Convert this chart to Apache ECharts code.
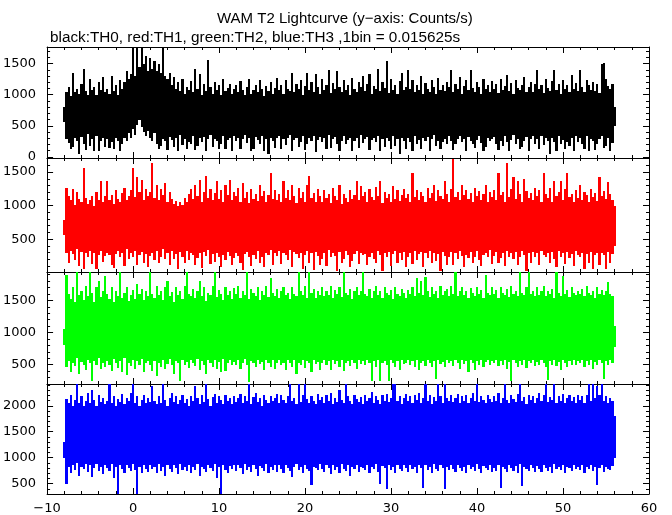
<!DOCTYPE html>
<html><head><meta charset="utf-8">
<script src="https://cdn.jsdelivr.net/npm/echarts@6/dist/echarts.min.js"></script>
<style>html,body{margin:0;padding:0;background:#fff}#c{width:672px;height:515px}</style>
</head><body><div id="c"></div><script>
// Per-column minimum / maximum of each light curve
// at 0.25 s spacing (x = -8 ... 56 s, 257 columns)
const timeStart = -8, timeStep = 0.25;
const xTicks = [-10, 0, 10, 20, 30, 40, 50, 60];

// TH0 (black)
const th0Hi = [
  800,1050,1120,980,1350,1040,1100,1010,1180,1420,1060,990,1250,1080,1130,1000,1210,1070,1290,1040,
  1100,1020,1300,1060,1150,1000,1240,1090,1200,1380,1250,1330,1780,1300,1780,1450,1780,1500,1620,1380,
  1600,1420,1550,1380,1500,1350,1780,1300,1250,1350,1150,1280,1100,1200,1060,1250,1010,1130,1080,1220,
  1050,1420,1100,1340,1000,1180,1060,1560,1120,1020,1200,1080,1150,990,1250,1060,1110,1180,1020,1090,
  1160,1040,1220,1070,990,1130,1250,1010,1080,1160,1040,1230,1100,980,1140,1060,1200,1020,1110,1270,
  1070,1150,1010,1240,1100,1060,1350,1040,1180,1090,1230,1000,1140,1350,1080,1200,1050,1340,1120,1010,
  1260,1070,1150,1400,1030,1190,1090,1380,1120,1040,1230,1080,1160,1000,1270,1100,1050,1200,1130,1310,
  1060,1180,1330,1020,1140,1090,1420,1060,1200,1110,1540,1030,1250,1080,1160,1010,1220,1350,1070,1130,
  1400,1090,1230,1040,1160,1080,1300,1020,1190,1100,1050,1240,1130,1010,1270,1080,1150,1060,1210,1120,
  1400,1050,1180,1090,1280,1020,1140,1230,1070,1400,1110,1050,1200,1130,1010,1260,1090,1150,1040,1220,
  1100,1170,1030,1250,1080,1140,1320,1060,1190,1010,1230,1110,1070,1160,1280,1040,1130,1200,1050,1180,
  1400,1090,1150,1030,1260,1110,1060,1220,1400,1080,1170,1020,1240,1100,1150,1050,1320,1090,1190,1060,
  1400,1120,1040,1230,1150,1080,1200,1060,1170,1030,1500,1510,1250,1140,1090,1180,800];
const th0Lo = [
  560,280,220,130,150,300,250,40,320,210,110,360,180,290,90,330,100,260,310,150,
  290,140,230,120,300,260,100,200,310,250,380,300,450,350,520,600,480,400,330,420,
  300,250,380,200,130,180,290,260,110,320,270,160,300,90,350,190,280,130,240,200,
  330,110,170,300,240,320,90,280,350,150,290,260,130,210,340,120,270,300,100,330,
  260,310,120,280,350,220,300,90,130,320,270,210,340,100,290,40,310,260,140,300,
  330,120,280,190,310,350,90,270,300,160,240,330,110,210,300,250,340,80,270,320,
  230,300,130,350,140,280,320,210,100,250,330,200,270,310,100,260,300,140,350,220,
  280,320,110,270,300,240,340,90,280,150,310,260,120,330,180,290,40,300,250,130,
  310,240,100,340,200,270,130,300,250,320,90,290,350,180,260,120,240,280,200,330,
  250,110,210,290,340,230,280,100,320,260,200,140,270,340,220,90,160,310,250,280,
  320,210,110,260,180,330,240,90,270,350,200,280,130,150,260,320,100,290,340,210,
  280,120,330,190,300,260,40,310,240,100,340,200,270,130,230,180,300,90,330,240,
  300,210,120,340,90,290,250,110,200,280,330,140,170,300,100,220,500];

// TH1 (red)
const th1Hi = [
  780,1270,1150,1080,1250,1010,1200,1100,1050,1560,1120,1030,1080,1150,1000,1210,1090,1370,1060,1140,
  1370,1080,1160,1020,1230,1100,1050,1190,1270,1080,1150,1240,1560,1130,1430,1200,1380,1090,1250,1140,
  1200,1640,1120,1300,1080,1250,1160,1340,1050,1200,1100,1020,1070,990,1050,1010,1120,1060,1180,1250,
  1100,1300,1150,1380,1060,1200,1440,1120,1250,1080,1190,1370,1100,1230,1050,1300,1160,1380,1090,1210,
  1150,1270,1060,1330,1120,1200,1040,1250,1100,1180,1070,1300,1140,1220,1050,1160,1490,1100,1230,1080,
  1180,1050,1370,1120,1230,1090,1300,1150,1040,1260,1110,1200,1060,1310,1440,1120,1190,1050,1250,1140,
  1060,1230,1110,1180,1040,1270,1150,1090,1300,1020,1180,1120,1050,1230,1100,1160,1370,1080,1290,1140,
  1200,1060,1250,1130,1090,1280,1150,1370,1040,1210,1120,1180,1060,1290,1100,1230,1070,1160,1250,1110,
  1180,1050,1490,1130,1240,1080,1200,1150,1060,1270,1120,1190,1310,1070,1230,1140,1100,1370,1180,1050,
  1250,1700,1130,1210,1080,1300,1160,1240,1100,1190,1050,1270,1140,1220,1090,1180,1310,1060,1200,1130,
  1240,1090,1490,1160,1210,1060,1640,1130,1250,1430,1100,1370,1180,1060,1400,1220,1120,1190,1080,1260,
  1150,1230,1060,1490,1180,1110,1270,1050,1360,1140,1200,1370,1090,1250,1490,1130,1180,1060,1240,1120,
  1300,1090,1210,1160,1050,1250,1130,1190,1070,1430,1150,1220,1100,1350,1180,1090,1000];
const th1Lo = [
  560,300,150,330,280,190,350,100,310,60,290,240,330,130,300,60,270,320,160,250,
  300,260,120,70,280,320,230,300,100,350,210,290,240,330,120,270,310,150,280,90,
  250,300,190,330,140,240,350,210,290,110,320,200,280,50,310,240,150,330,190,300,
  260,110,220,290,70,310,250,340,130,280,160,300,240,90,270,190,310,250,120,220,
  290,250,140,40,280,310,230,100,260,200,330,150,240,80,300,260,340,110,290,250,
  320,130,300,270,190,340,90,310,280,220,300,60,260,330,140,290,40,310,250,120,
  210,300,100,340,230,290,250,20,310,150,200,330,260,90,180,280,320,130,300,260,
  280,110,240,300,210,140,320,260,20,290,240,310,100,280,330,150,290,190,310,80,
  240,300,130,330,190,280,310,90,290,220,320,140,300,180,280,20,310,250,110,230,
  310,120,290,200,330,250,90,270,220,310,150,240,320,190,100,260,300,230,340,130,
  250,310,140,220,300,100,330,240,290,200,310,120,240,320,260,20,290,150,310,230,
  290,110,320,270,230,300,140,310,200,90,330,240,290,130,310,220,280,100,320,270,
  240,300,60,280,150,310,50,270,300,120,290,260,60,310,140,280,400];

// TH2 (green)
const th2Hi = [
  1050,1900,1600,1520,1700,1480,1940,1580,1650,1500,1720,1560,1940,1620,1470,1700,1800,1550,1640,1880,
  1600,1520,1700,1480,1650,1570,1940,1530,1620,1700,1490,1580,1660,1520,1750,1600,1680,1500,1640,1560,
  1940,1600,1530,1720,1580,1650,1500,1700,1800,1560,1630,1480,1700,1590,1650,1520,1720,1940,1600,1560,
  1680,1530,1640,1800,1560,1700,1490,1620,1580,1720,1940,1550,1660,1600,1500,1700,1580,1640,1520,1690,
  1600,1720,1540,1650,1580,1940,1520,1680,1610,1560,1700,1500,1640,1590,1720,1550,1850,1620,1570,1680,
  1540,1640,1700,1580,1620,1520,1700,1600,1560,1940,1650,1590,1720,1540,1940,1610,1680,1530,1650,1580,
  1700,1560,1640,1590,1720,1540,1660,1600,1700,1550,1940,1620,1580,1680,1520,1640,1700,1580,1650,1940,
  1600,1560,1680,1530,1640,1720,1590,1650,1540,1700,1610,1580,1660,1520,1700,1600,1560,1680,1620,1540,
  1660,1600,1700,1560,1850,1620,1800,1580,1870,1640,1550,1700,1600,1650,1530,1720,1590,1640,1680,1570,
  1720,1600,1940,1560,1650,1700,1580,1640,1530,1690,1620,1570,1700,1600,1660,1540,1890,1620,1580,1700,
  1600,1660,1540,1700,1620,1580,1680,1550,1720,1600,1650,1560,1940,1620,1580,1700,1940,1600,1640,1560,
  1700,1580,1640,1720,1560,1650,1600,1680,1540,1940,1620,1570,1880,1600,1660,1550,1700,1620,1580,1640,
  1600,1680,1560,1720,1620,1580,1650,1540,1700,1600,1660,1580,1640,1790,1600,1560,1100];
const th2Lo = [
  800,470,560,380,520,480,600,350,540,500,420,580,520,240,560,490,600,430,530,470,
  560,500,400,590,520,450,560,380,600,340,530,480,570,430,550,500,590,380,520,560,
  500,400,550,330,520,470,570,440,510,590,500,360,560,520,240,580,500,540,450,570,
  520,480,590,420,550,500,360,570,520,470,580,430,540,390,590,400,520,570,490,540,
  500,570,430,530,590,490,230,550,520,460,580,510,540,410,570,520,470,580,440,530,
  570,500,530,420,580,520,470,570,360,530,500,580,450,550,520,380,570,510,540,410,
  530,580,490,550,420,570,510,550,470,580,400,530,560,480,570,520,440,580,510,550,
  500,570,520,240,550,470,580,250,520,560,490,240,570,520,470,550,420,580,510,530,
  570,500,550,470,580,420,520,560,480,570,520,460,550,280,580,510,540,470,570,520,
  550,480,570,520,440,580,510,550,390,570,520,420,560,490,580,470,540,570,500,550,
  520,570,480,550,490,580,440,540,240,570,520,470,560,500,580,450,550,520,570,480,
  540,490,570,520,470,260,550,500,580,480,540,420,570,520,470,560,500,580,490,550,
  520,570,470,550,500,580,440,540,490,570,520,270,550,500,570,520,780];

// TH3 (blue)
const th3Hi = [
  1300,2140,2050,2200,2000,2120,2420,2060,2180,1990,2100,2250,2050,2310,2120,2000,2200,2080,2150,2030,
  2100,2420,2050,2180,2000,2140,2080,2220,2030,2150,2100,2250,2420,2060,2180,2000,2120,2200,2050,2150,
  2080,2380,2100,2030,2180,2060,2420,2120,2000,2150,2250,2080,2180,2030,2120,2200,2060,2140,2000,2180,
  2100,2380,2150,2030,2200,2080,2420,2140,2000,2160,2230,2060,2180,2110,2040,2200,2090,2150,2030,2180,
  2080,2150,2220,2050,2180,2100,2420,2030,2160,2240,2080,2150,2000,2200,2120,2060,2180,2100,2150,2230,
  2050,2200,2120,2060,2180,2420,2100,2150,2030,2420,2080,2200,2420,2130,2060,2190,2100,2040,2220,2120,
  2160,2060,2200,2100,2250,2030,2150,2080,2300,2120,2050,2420,2180,2100,2040,2200,2140,2080,2160,2030,
  2200,2100,2150,2260,2060,2180,2120,2040,2200,2100,2230,2080,2150,2420,2420,2100,2180,2040,2150,2220,
  2100,2180,2050,2200,2120,2250,2060,2150,2420,2100,2200,2040,2160,2100,2420,2180,2060,2420,2150,2100,
  2200,2080,2150,2230,2050,2180,2100,2200,2060,2150,2240,2100,2420,2080,2180,2120,2050,2200,2140,2080,
  2180,2100,2250,2050,2150,2420,2120,2060,2200,2140,2080,2230,2420,2100,2160,2040,2200,2120,2180,2060,
  2150,2250,2100,2200,2420,2080,2160,2120,2420,2050,2180,2100,2230,2060,2150,2200,2100,2160,2050,2200,
  2120,2180,2060,2200,2420,2100,2420,2150,2380,2200,2420,2100,2180,2060,2150,2100,1800];
const th3Lo = [
  1000,490,820,700,860,760,900,650,830,780,880,720,850,620,800,870,740,830,680,860,
  800,740,880,600,820,300,850,780,700,860,810,740,880,760,300,830,700,850,790,720,
  860,780,820,700,880,750,830,640,860,790,720,850,800,680,870,760,820,740,860,700,
  820,760,880,650,830,790,720,860,800,740,870,600,820,300,850,760,700,840,780,860,
  740,850,800,690,870,760,830,720,860,790,650,840,800,740,880,700,820,770,860,730,
  850,780,700,860,800,740,620,830,880,760,820,700,860,790,740,480,830,800,760,870,
  790,720,850,800,680,860,760,830,700,880,790,740,850,650,820,780,860,720,830,800,
  760,850,700,830,790,880,720,490,840,800,400,860,760,820,700,850,790,740,860,810,
  720,850,780,830,700,860,800,420,850,760,820,700,870,790,740,850,800,400,830,760,
  850,790,720,860,800,740,830,700,860,780,820,750,880,790,700,840,800,760,860,720,
  800,740,860,420,830,790,720,860,800,750,840,700,880,460,820,790,740,860,800,720,
  840,790,720,860,800,740,830,700,870,790,820,760,850,700,830,800,740,860,780,820,
  760,850,700,830,790,860,740,820,470,800,850,720,830,790,760,840,1000];

const panels = [
  {hi: th0Hi, lo: th0Lo, color: '#000000', min: -20, max: 1770, top: 47, bottom: 158},
  {hi: th1Hi, lo: th1Lo, color: '#ff0000', min: 10, max: 1710, top: 158, bottom: 272},
  {hi: th2Hi, lo: th2Lo, color: '#00ff00', min: 200, max: 1940, top: 272, bottom: 384},
  {hi: th3Hi, lo: th3Lo, color: '#0000ff', min: 300, max: 2420, top: 384, bottom: 494}
];

const LEFT = 45, RIGHT = 649;
const tickFont = {fontFamily: 'DejaVu Sans', fontSize: 13, color: '#000'};
const minus = v => String(v).replace('-', '\u2212');

function columnRender(color) {
  return function (params, api) {
    const x = api.value(0);
    const top = api.coord([x, api.value(2)]);
    const bot = api.coord([x, api.value(1)]);
    const w = api.size([timeStep, 0])[0];
    const x0 = Math.round(top[0] - w / 2), x1 = Math.round(top[0] + w / 2);
    const y0 = Math.round(top[1]), y1 = Math.round(bot[1]);
    const cs = params.coordSys;
    const shape = echarts.graphic.clipRectByRect(
      {x: x0, y: y0, width: x1 - x0, height: y1 - y0},
      {x: cs.x, y: cs.y, width: cs.width, height: cs.height});
    if (!shape) return;
    return {type: 'rect', shape: shape, style: {fill: color}};
  };
}

const grid = [], xAxis = [], yAxis = [], series = [];
panels.forEach((p, k) => {
  grid.push({left: LEFT, width: RIGHT - LEFT, top: p.top, height: p.bottom - p.top, show: false});
  const last = k === panels.length - 1;
  const xCommon = {
    type: 'value', gridIndex: k, min: xTicks[0], max: xTicks[xTicks.length - 1], interval: 10,
    axisLine: {show: true, onZero: false, lineStyle: {color: '#000', width: 1}},
    axisTick: {show: true, inside: true, length: 6, lineStyle: {color: '#000'}},
    minorTick: {show: true, splitNumber: 5, length: 3, lineStyle: {color: '#000'}},
    splitLine: {show: false}
  };
  xAxis.push(Object.assign({}, xCommon, {position: 'bottom',
    axisLabel: {show: last, margin: 8, formatter: minus, ...tickFont}}));
  xAxis.push(Object.assign({}, xCommon, {position: 'top', axisLabel: {show: false}}));
  const yCommon = {
    type: 'value', gridIndex: k, min: p.min, max: p.max, minInterval: 500, maxInterval: 500, splitNumber: 4,
    axisLine: {show: true, onZero: false, lineStyle: {color: '#000', width: 1}},
    axisTick: {show: true, inside: true, length: 6, lineStyle: {color: '#000'}},
    minorTick: {show: true, splitNumber: 5, length: 3, lineStyle: {color: '#000'}},
    splitLine: {show: false}
  };
  yAxis.push(Object.assign({}, yCommon, {position: 'left',
    axisLabel: {show: true, margin: 11, formatter: v => (v % 500 === 0 ? String(v) : ''), ...tickFont}}));
  yAxis.push(Object.assign({}, yCommon, {position: 'right', axisLabel: {show: false}}));

  const data = p.hi.map((h, i) => [timeStart + i * timeStep, p.lo[i], h]);
  series.push({type: 'custom', xAxisIndex: 2 * k, yAxisIndex: 2 * k, silent: true,
    renderItem: columnRender(p.color), encode: {x: 0, y: [1, 2]}, data: data, z: 3});
});

const chart = echarts.init(document.getElementById('c'), null, {renderer: 'canvas'});
chart.setOption({
  animation: false,
  backgroundColor: '#fff',
  title: [
    {text: 'WAM T2 Lightcurve (y\u2212axis: Counts/s)', left: 212, top: 6,
     textStyle: {fontFamily: 'Liberation Sans', fontSize: 15, fontWeight: 'normal', color: '#000'}},
    {text: 'black:TH0, red:TH1, green:TH2, blue:TH3 ,1bin = 0.015625s', left: 45, top: 25,
     textStyle: {fontFamily: 'Liberation Sans', fontSize: 15.3, fontWeight: 'normal', color: '#000'}}
  ],
  grid: grid, xAxis: xAxis, yAxis: yAxis, series: series
});
</script></body></html>
